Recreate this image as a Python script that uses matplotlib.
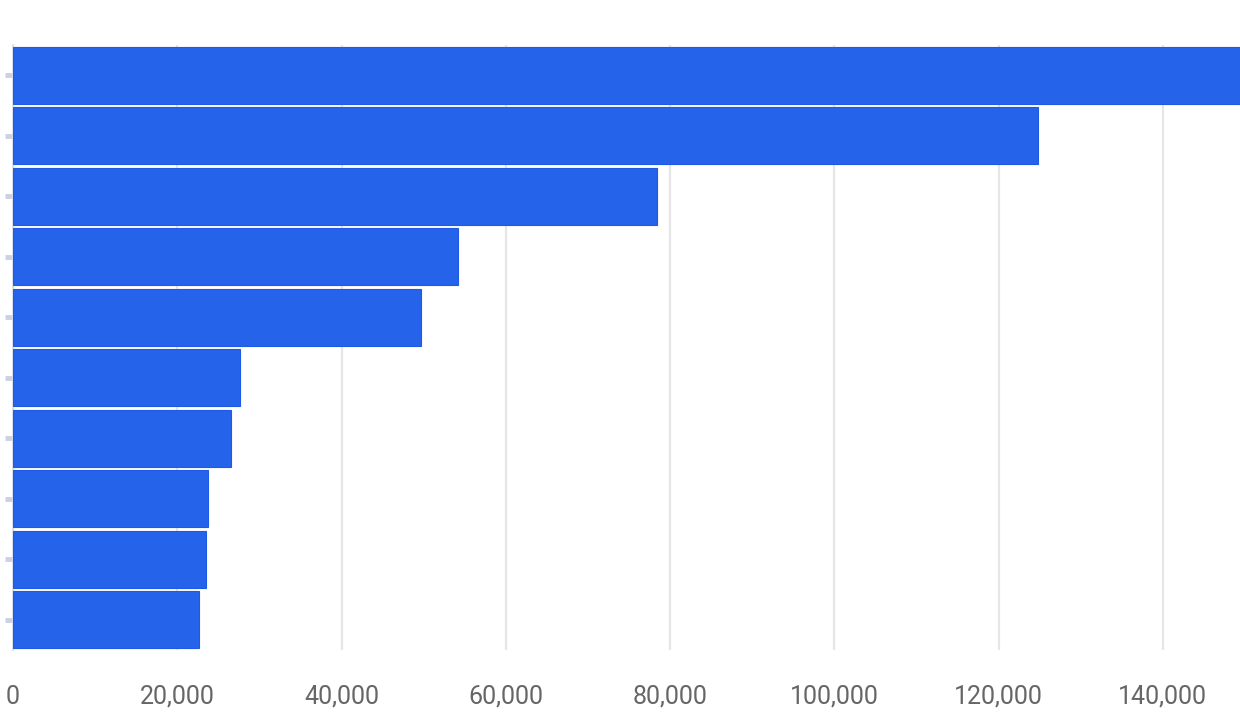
import matplotlib.pyplot as plt
from matplotlib.ticker import FuncFormatter

# Values (top bar is clipped at the right edge)
categories = ['A', 'B', 'C', 'D', 'E', 'F', 'G', 'H', 'I', 'J']
values = [151000, 124800, 78400, 54200, 49700, 27600, 26500, 23700, 23500, 22600]
x_ticks = [0, 20000, 40000, 60000, 80000, 100000, 120000, 140000]

plt.rcParams['font.family'] = ['Liberation Sans Narrow', 'Roboto', 'DejaVu Sans']

fig = plt.figure(figsize=(12.4, 7.2), dpi=100)
ax = fig.add_axes([13 / 1240, 1 - 650 / 720, 1 - 13 / 1240, 605 / 720])

ypos = list(range(len(categories)))
ax.barh(ypos, values, height=0.95, color='#2563eb', edgecolor='#1f5ae6',
        linewidth=0.8, zorder=3)

ax.set_ylim(len(categories) - 0.5, -0.5)
ax.set_xlim(0, 149400)
ax.set_xticks(x_ticks)
ax.xaxis.set_major_formatter(FuncFormatter(lambda v, p: f'{int(v):,}'))
ax.grid(axis='x', color='#e6e6e6', linewidth=1.6, zorder=0)

ax.set_yticks(ypos)
ax.set_yticklabels([''] * len(categories))
ax.tick_params(axis='y', length=6, width=3.5, color='#ccd1e4', direction='out', pad=0)
ax.tick_params(axis='x', length=0, pad=25, labelsize=18, labelcolor='#666666')

for s in ['top', 'right', 'bottom']:
    ax.spines[s].set_visible(False)
ax.spines['left'].set_color('#d5dbea')
ax.spines['left'].set_linewidth(1.2)

fig.savefig('out.png', dpi=100)
